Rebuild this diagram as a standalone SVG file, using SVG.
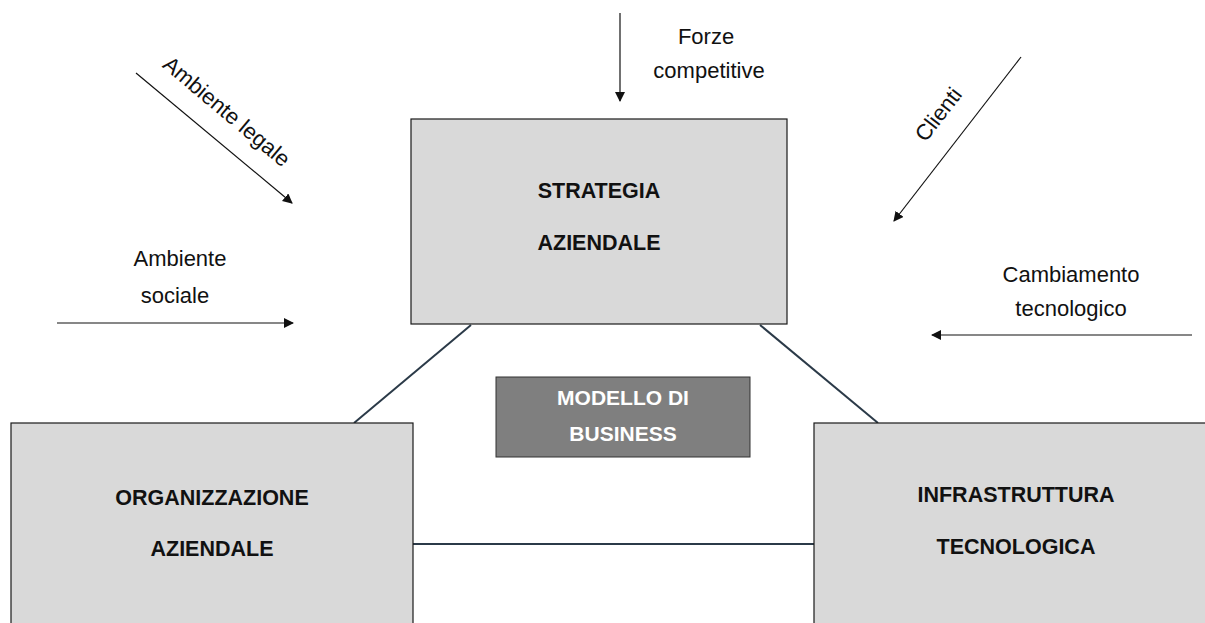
<svg xmlns="http://www.w3.org/2000/svg" width="1205" height="623" viewBox="0 0 1205 623">
<style>
.box{fill:#d9d9d9;stroke:#1a1a1a;stroke-width:1.2}
.lbl{font-family:"Liberation Sans",Arial,sans-serif;font-weight:bold;font-size:21.5px;fill:#111;text-anchor:middle}
.wl{font-family:"Liberation Sans",Arial,sans-serif;font-weight:bold;font-size:21px;fill:#fff;text-anchor:middle}
.t{font-family:"Liberation Sans",Arial,sans-serif;font-size:22px;fill:#111;text-anchor:middle}
.con{stroke:#2b3a48;stroke-width:2;fill:none}
.arr{stroke:#111;stroke-width:1.2;fill:none;marker-end:url(#ah)}
</style>
<defs>
<marker id="ah" viewBox="0 0 10 10" refX="9" refY="5" markerWidth="10" markerHeight="10" markerUnits="userSpaceOnUse" orient="auto">
<path d="M0,0 L10,5 L0,10 z" fill="#111"/>
</marker>
</defs>
<rect width="1205" height="623" fill="#fff"/>
<g id="connectors">
<line class="con" x1="471" y1="325" x2="354" y2="423"/>
<line class="con" x1="760" y1="325" x2="878" y2="423"/>
<line class="con" x1="413" y1="544" x2="814" y2="544"/>
<line class="arr" x1="620" y1="13" x2="620" y2="101"/>
<line class="arr" x1="136" y1="73" x2="292" y2="203"/>
<line class="arr" x1="1021" y1="57" x2="894" y2="221"/>
<line class="arr" x1="57" y1="323" x2="293" y2="323"/>
<line class="arr" x1="1192" y1="335" x2="932" y2="335"/>
</g>
<g id="strategia">
<rect class="box" x="411" y="119" width="376" height="205"/>
<text class="lbl" x="599" y="198">STRATEGIA</text>
<text class="lbl" x="599" y="250">AZIENDALE</text>
</g>
<g id="organizzazione">
<rect class="box" x="11" y="423" width="402" height="210"/>
<text class="lbl" x="212" y="505">ORGANIZZAZIONE</text>
<text class="lbl" x="212" y="556">AZIENDALE</text>
</g>
<g id="infrastruttura">
<rect class="box" x="814" y="423" width="400" height="210"/>
<text class="lbl" x="1016" y="502">INFRASTRUTTURA</text>
<text class="lbl" x="1016" y="554">TECNOLOGICA</text>
</g>
<g id="modello">
<rect x="496" y="377" width="254" height="80" fill="#7f7f7f" stroke="#333" stroke-width="1"/>
<text class="wl" x="623" y="405">MODELLO DI</text>
<text class="wl" x="623" y="441">BUSINESS</text>
</g>
<g id="forze">
<text class="t" x="706" y="44">Forze</text>
<text class="t" x="709" y="78">competitive</text>
</g>
<g id="ambiente-sociale">
<text class="t" x="180" y="266">Ambiente</text>
<text class="t" x="175" y="303">sociale</text>
</g>
<g id="cambiamento">
<text class="t" x="1071" y="282">Cambiamento</text>
<text class="t" x="1071" y="316">tecnologico</text>
</g>
<g id="ambiente-legale">
<text class="t" transform="translate(227,111) rotate(40)" y="8">Ambiente legale</text>
</g>
<g id="clienti">
<text class="t" transform="translate(938,114) rotate(-52)" y="8">Clienti</text>
</g>
</svg>
